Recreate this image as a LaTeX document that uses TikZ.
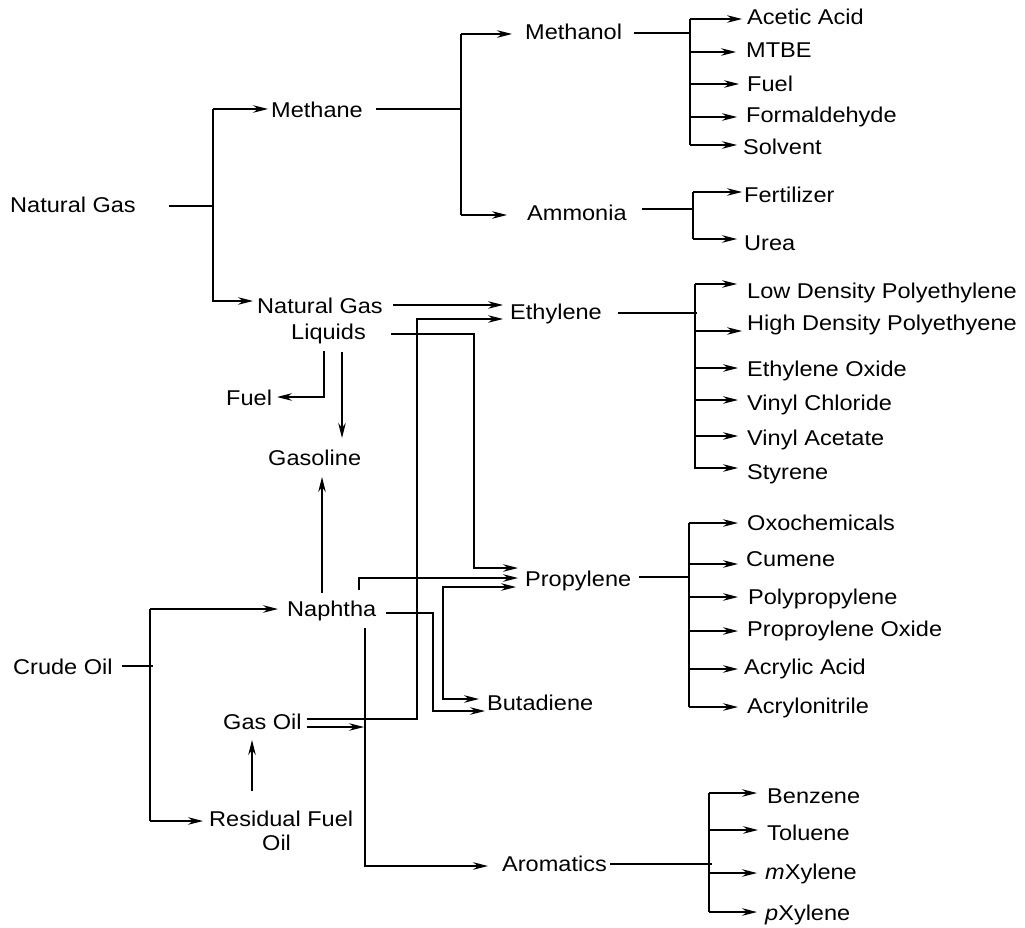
\documentclass[tikz,border=0pt]{standalone}
\usepackage{fontspec}
\setmainfont[FakeStretch=1.1]{Liberation Sans}
\usetikzlibrary{arrows.meta}
\tikzset{
  lbl/.style={anchor=base west, inner sep=0pt, font=\fontsize{21.4}{24}\selectfont},
  conn/.style={line width=1.2pt, line join=miter},
  tipstyle/.style={},
  arr/.style={conn, -{Stealth[length=15pt,width=7.5pt,inset=5pt]}},
  dbl/.style={conn, {Stealth[length=15pt,width=7.5pt,inset=5pt]}-{Stealth[length=15pt,width=7.5pt,inset=5pt]}}
}
\begin{document}
\begin{tikzpicture}[x=1pt,y=-1pt]
\useasboundingbox (0,0) rectangle (1025,928);
% ---------- nodes ----------
\node[lbl] (ng) at (10,213) {Natural Gas};
\node[lbl] (methane) at (271,117.5) {Methane};
\node[lbl] (methanol) at (525,39.5) {Methanol};
\node[lbl] (ammonia) at (527,220.5) {Ammonia};
\node[lbl] (acetic) at (747,24.5) {Acetic Acid};
\node[lbl] (mtbe) at (746,57.5) {MTBE};
\node[lbl] (fuelA) at (747,91.5) {Fuel};
\node[lbl] (formal) at (746,122.5) {Formaldehyde};
\node[lbl] (solvent) at (743,154.5) {Solvent};
\node[lbl] (fert) at (744,202.5) {Fertilizer};
\node[lbl] (urea) at (744,250.5) {Urea};
\node[lbl] (ngl) at (257,313.5) {Natural Gas};
\node[lbl] (ngl2) at (291,339.5) {Liquids};
\node[lbl] (ethylene) at (510,319.5) {Ethylene};
\node[lbl] (ldpe) at (747,298.5) {Low Density Polyethylene};
\node[lbl] (hdpe) at (747,330.5) {High Density Polyethyene};
\node[lbl] (eo) at (747,376.5) {Ethylene Oxide};
\node[lbl] (vc) at (747,410.5) {Vinyl Chloride};
\node[lbl] (va) at (747,445.5) {Vinyl Acetate};
\node[lbl] (styrene) at (747,479.5) {Styrene};
\node[lbl] (fuelB) at (226,405.5) {Fuel};
\node[lbl] (gasoline) at (268,465.5) {Gasoline};
\node[lbl] (naphtha) at (287,616.5) {Naphtha};
\node[lbl] (propylene) at (525,586.5) {Propylene};
\node[lbl] (butadiene) at (487,710.5) {Butadiene};
\node[lbl] (crude) at (13,674.5) {Crude Oil};
\node[lbl] (gasoil) at (223,729.5) {Gas Oil};
\node[lbl] (resid) at (209,826.5) {Residual Fuel};
\node[lbl] (resid2) at (262,850.5) {Oil};
\node[lbl] (aromatics) at (502,871.5) {Aromatics};
\node[lbl] (oxo) at (747,530.5) {Oxochemicals};
\node[lbl] (cumene) at (746,566.5) {Cumene};
\node[lbl] (pp) at (748,604.5) {Polypropylene};
\node[lbl] (po) at (747,636.5) {Proproylene Oxide};
\node[lbl] (aa) at (744,674.5) {Acrylic Acid};
\node[lbl] (an) at (747,713.5) {Acrylonitrile};
\node[lbl] (benzene) at (767,803.5) {Benzene};
\node[lbl] (toluene) at (767,840.5) {Toluene};
\node[lbl] (mx) at (765,879.5) {\textit{m}Xylene};
\node[lbl] (px) at (765,920.5) {\textit{p}Xylene};
% ---------- natural gas ----------
\draw[conn] (169,206) -- (213,206);
\draw[conn] (213,109) -- (213,302);
\draw[arr] (213,109) -- (268,109);
\draw[arr] (213,301) -- (253,301);
% ---------- methane ----------
\draw[conn] (376,109) -- (461,109);
\draw[conn] (461,34) -- (461,215);
\draw[arr] (461,34) -- (512,34);
\draw[arr] (461,215) -- (507,215);
% ---------- methanol ----------
\draw[conn] (634,33) -- (690,33);
\draw[conn] (690,19) -- (690,145);
\draw[arr] (690,19) -- (742,19);
\draw[arr] (690,52) -- (736,52);
\draw[arr] (690,84) -- (739,84);
\draw[arr] (690,117) -- (737,117);
\draw[arr] (690,145) -- (737,145);
% ---------- ammonia ----------
\draw[conn] (642,209) -- (693,209);
\draw[conn] (693,192) -- (693,239);
\draw[arr] (693,192) -- (742,192);
\draw[arr] (693,239) -- (737,239);
% ---------- natural gas liquids ----------
\draw[arr] (393,305) -- (503,305);
\draw[arr] (391,334) -- (474,334) -- (474,568) -- (518,568);
\draw[arr] (324,351) -- (324,397) -- (277,397);
\draw[arr] (342,352) -- (342,438);
% ---------- naphtha ----------
\draw[arr] (322,593) -- (322,477);
\draw[arr] (359,590) -- (359,578) -- (518,578);
\draw[arr] (386,613) -- (433,613) -- (433,711) -- (485,711);
\draw[arr] (365,628) -- (365,866) -- (488,866);
\draw[dbl] (516,587) -- (443,587) -- (443,699) -- (479,699);
% ---------- gas oil ----------
\draw[arr] (307,719) -- (417,719) -- (417,319) -- (503,319);
\draw[arr] (307,727) -- (364,727);
% ---------- crude oil ----------
\draw[conn] (122,666) -- (153,666);
\draw[conn] (150,609) -- (150,821);
\draw[arr] (150,609) -- (278,609);
\draw[arr] (150,821) -- (203,821);
\draw[arr] (252,791) -- (252,740);
% ---------- ethylene ----------
\draw[conn] (618,313) -- (697,313);
\draw[conn] (695,284) -- (695,469);
\draw[arr] (695,284) -- (737,284);
\draw[arr] (695,331) -- (742,331);
\draw[arr] (695,368) -- (738,368);
\draw[arr] (695,400) -- (738,400);
\draw[arr] (695,436) -- (738,436);
\draw[arr] (695,468) -- (738,468);
% ---------- propylene ----------
\draw[conn] (639,577) -- (689,577);
\draw[conn] (689,523) -- (689,707);
\draw[arr] (689,523) -- (738,523);
\draw[arr] (689,564) -- (738,564);
\draw[arr] (689,597) -- (738,597);
\draw[arr] (689,631) -- (738,631);
\draw[arr] (689,669) -- (738,669);
\draw[arr] (689,707) -- (738,707);
% ---------- aromatics ----------
\draw[conn] (610,864) -- (712,864);
\draw[conn] (709,793) -- (709,912);
\draw[arr] (709,793) -- (757,793);
\draw[arr] (709,830) -- (758,830);
\draw[arr] (709,873) -- (757,873);
\draw[arr] (709,912) -- (757,912);
\end{tikzpicture}
\end{document}
